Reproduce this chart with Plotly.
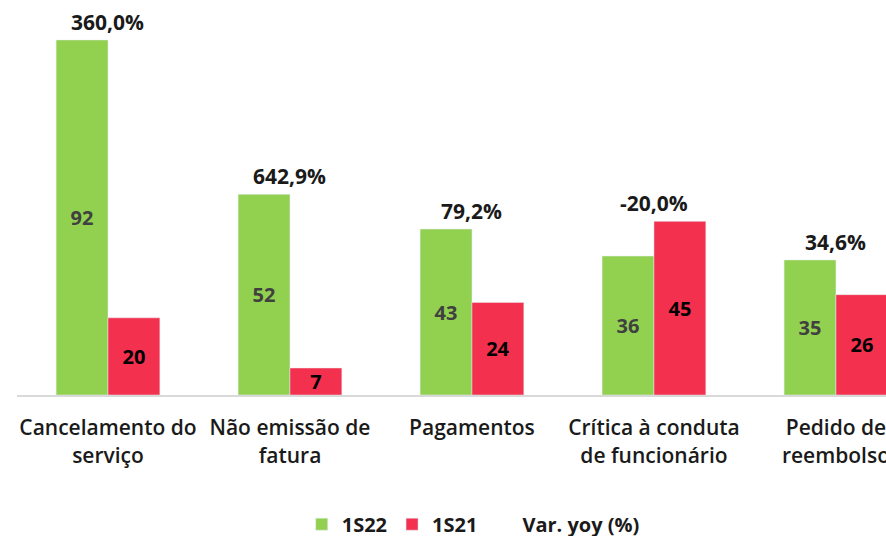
import plotly.graph_objects as go

categories = ["Cancelamento do<br>serviço", "Não emissão de<br>fatura", "Pagamentos",
              "Crítica à conduta<br>de funcionário", "Pedido de<br>reembolso"]
s1s22 = [92, 52, 43, 36, 35]
s1s21 = [20, 7, 24, 45, 26]
var_yoy = ["360,0%", "642,9%", "79,2%", "-20,0%", "34,6%"]

GREEN = "#92D050"
RED = "#F4304F"
FONT = "Open Sans"

fig = go.Figure()
fig.add_trace(go.Bar(
    x=categories, y=s1s22, name="1S22", marker_color=GREEN,
    text=[str(v) for v in s1s22], textposition="inside", insidetextanchor="middle",
    constraintext="none", textangle=0,
    textfont=dict(family=FONT, size=20, color="#404040", weight=700),
))
fig.add_trace(go.Bar(
    x=categories, y=s1s21, name="1S21", marker_color=RED,
    text=[str(v) for v in s1s21], textposition="inside", insidetextanchor="middle",
    constraintext="none", textangle=0,
    textfont=dict(family=FONT, size=20, color="#000000", weight=700),
))
tops = [max(a, b) for a, b in zip(s1s22, s1s21)]
fig.add_trace(go.Scatter(
    x=categories, y=tops, name="Var. yoy (%)",
    mode="lines", line=dict(color="rgba(0,0,0,0)"), hoverinfo="skip",
))
for c, t, lab in zip(categories, tops, var_yoy):
    fig.add_annotation(x=c, y=t, text=lab, showarrow=False, yanchor="bottom", yshift=2,
                       font=dict(family=FONT, size=21, color="#1a1a1a", weight=700))

fig.update_layout(
    width=886, height=536,
    margin=dict(l=17, r=0, t=0, b=141, autoexpand=False),
    paper_bgcolor="white", plot_bgcolor="white",
    barmode="group", bargap=0.43, bargroupgap=0,
    font=dict(family=FONT, color="#1a1a1a"),
    showlegend=True,
    legend=dict(orientation="h", x=0.525, xanchor="center", y=-0.327, yanchor="middle",
                font=dict(family=FONT, size=20, color="#1a1a1a", weight=700)),
    xaxis=dict(type="category", range=[-0.5, 4.275], showline=True, linecolor="#D9D9D9",
               linewidth=2, ticks="", automargin=False, ticklabelstandoff=13,
               tickfont=dict(family=FONT, size=21, color="#1a1a1a", weight=600)),
    yaxis=dict(range=[0, 102.36], visible=False, showgrid=False, automargin=False),
)

fig.write_html("out.html", config={"displayModeBar": False},
               post_script="document.body.style.margin='0';document.body.style.overflow='hidden';")
